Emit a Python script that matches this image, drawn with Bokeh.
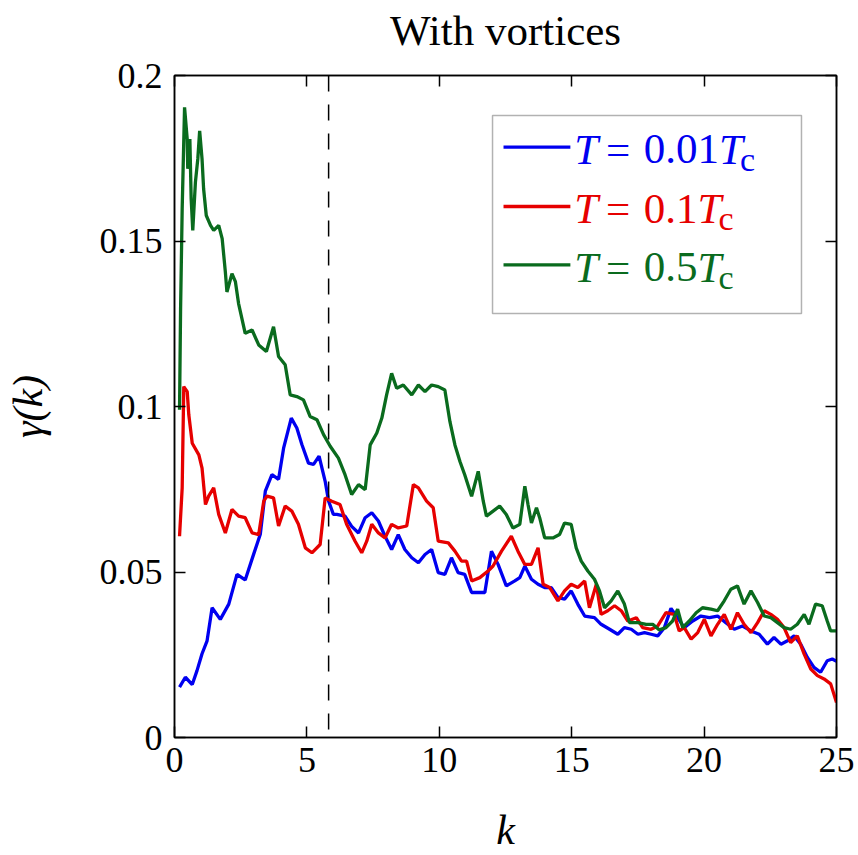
from bokeh.plotting import figure
from bokeh.models import Range1d, FixedTicker, NumeralTickFormatter, LinearAxis, Span, BoxAnnotation, Label
from bokeh.embed import file_html
from bokeh.resources import INLINE

# ---------------- data ----------------
blue_k = [0.19,0.41,0.67,0.85,1.04,1.23,1.42,1.73,2.05,2.36,2.67,2.99,3.24,3.43,3.68,3.93,4.12,4.41,4.62,4.81,
          5.06,5.25,5.46,5.69,5.82,6.0,6.13,6.44,6.69,6.95,7.2,7.45,7.7,7.95,8.2,8.45,8.7,8.96,9.21,9.46,
          9.71,9.96,10.21,10.46,10.71,10.96,11.22,11.72,11.97,12.22,12.53,12.85,13.04,13.23,13.48,13.73,13.98,14.23,14.48,14.73,
          14.98,15.23,15.49,15.86,16.11,16.43,16.74,16.99,17.25,17.5,17.75,18.0,18.25,18.5,18.75,19.0,19.25,19.57,19.88,20.2,
          20.51,20.82,21.14,21.45,21.77,22.08,22.39,22.64,22.9,23.15,23.4,23.65,23.9,24.15,24.4,24.65,24.84,25.0]
blue_g = [0.0152,0.0182,0.016,0.0202,0.0253,0.0292,0.0392,0.0357,0.0403,0.0493,0.0476,0.0554,0.0614,0.0744,0.0794,0.078,0.0874,0.0965,0.0935,0.0885,
          0.0829,0.0825,0.085,0.0774,0.0714,0.0674,0.0674,0.0669,0.0638,0.0618,0.0664,0.0679,0.0654,0.0608,0.0568,0.0613,0.0568,0.0543,0.0528,0.0553,
          0.0568,0.0498,0.0493,0.0543,0.0498,0.0493,0.0438,0.0438,0.0563,0.0523,0.0458,0.0473,0.0483,0.0518,0.0478,0.0463,0.0453,0.0453,0.0423,0.0418,
          0.0443,0.0403,0.0367,0.0362,0.0342,0.0327,0.0312,0.0332,0.0327,0.0312,0.0317,0.0312,0.0307,0.0332,0.0390,0.0362,0.0332,0.0352,0.0367,0.0362,
          0.0367,0.0347,0.0327,0.0337,0.0322,0.0312,0.0282,0.0302,0.0282,0.0292,0.0307,0.0282,0.0242,0.0212,0.0197,0.0232,0.0237,0.023]

red_k = [0.19,0.29,0.35,0.48,0.54,0.67,0.92,1.04,1.17,1.29,1.48,1.67,1.92,2.17,2.42,2.67,2.93,3.18,3.37,3.49,
         3.74,3.93,4.18,4.43,4.68,4.94,5.19,5.5,5.69,5.94,6.25,6.5,6.82,7.07,7.26,7.45,7.7,7.95,8.2,8.45,
         8.77,9.02,9.21,9.52,9.77,9.96,10.34,10.59,10.84,11.03,11.22,11.53,11.84,12.03,12.35,12.72,12.97,13.23,13.48,13.73,
         13.92,14.17,14.48,14.73,14.98,15.23,15.49,15.67,15.93,16.11,16.36,16.62,16.87,17.12,17.44,17.68,18.0,18.25,18.56,18.87,
         19.06,19.25,19.51,19.76,20.01,20.26,20.51,20.76,21.01,21.26,21.51,21.77,22.02,22.27,22.52,22.77,23.02,23.27,23.52,23.78,
         24.03,24.28,24.53,24.78,25.0]
red_g = [0.0608,0.0754,0.106,0.1045,0.0975,0.0889,0.0854,0.0814,0.0704,0.0729,0.0754,0.0674,0.0618,0.0689,0.0669,0.0664,0.0618,0.0613,0.0714,0.0729,
         0.0724,0.0639,0.0699,0.0684,0.0644,0.0573,0.0558,0.0583,0.0724,0.0714,0.0704,0.0644,0.0593,0.0558,0.0593,0.0644,0.0618,0.0603,0.0644,0.0633,
         0.0639,0.0764,0.0754,0.0714,0.0694,0.0593,0.0588,0.0563,0.0533,0.0533,0.0473,0.0483,0.0503,0.0518,0.0563,0.0608,0.0563,0.0523,0.0523,0.0573,
         0.0463,0.0453,0.0413,0.0443,0.0463,0.0453,0.0473,0.0392,0.0463,0.0372,0.0383,0.0398,0.0383,0.0352,0.0362,0.0332,0.0327,0.0337,0.0377,0.0372,
         0.0322,0.0332,0.0297,0.0317,0.0357,0.0307,0.0342,0.0372,0.0327,0.0377,0.0342,0.0317,0.0347,0.0383,0.0372,0.0357,0.0332,0.0287,0.0307,0.0252,
         0.0207,0.0187,0.0177,0.0162,0.0106]

green_k = [0.19,0.23,0.29,0.38,0.48,0.5,0.58,0.63,0.69,0.79,0.88,0.95,1.04,1.1,1.2,1.36,1.48,1.67,1.8,1.92,
           1.98,2.17,2.3,2.42,2.67,2.93,3.18,3.47,3.74,3.93,4.18,4.37,4.62,4.87,5.12,5.38,5.63,5.88,6.19,6.44,
           6.69,6.95,7.2,7.39,7.64,7.83,8.01,8.2,8.39,8.64,8.96,9.21,9.46,9.71,9.96,10.21,10.4,10.59,10.78,10.96,
           11.22,11.47,11.66,11.78,12.03,12.28,12.53,12.78,13.04,13.23,13.35,13.48,13.67,13.79,13.98,14.29,14.54,14.73,14.98,15.17,
           15.36,15.61,15.86,16.05,16.24,16.49,16.74,16.99,17.18,17.5,17.81,18.06,18.31,18.56,18.81,19.0,19.19,19.44,19.7,19.94,
           20.26,20.51,20.76,21.01,21.26,21.51,21.77,22.02,22.27,22.52,22.77,23.02,23.27,23.52,23.78,23.96,24.21,24.46,24.65,24.78,
           25.0]
green_g = [0.099,0.1296,0.1597,0.1904,0.1808,0.1718,0.1808,0.1627,0.1532,0.1678,0.1748,0.1833,0.1748,0.1657,0.1577,0.1547,0.1532,0.1547,0.1507,0.1407,
           0.1346,0.1401,0.1377,0.1311,0.1221,0.1231,0.1186,0.1166,0.1241,0.1151,0.1126,0.1035,0.1030,0.102,0.097,0.096,0.0915,0.0880,0.0844,0.0794,
           0.0734,0.0764,0.0749,0.0884,0.0920,0.0965,0.1035,0.1100,0.1055,0.1065,0.1035,0.1065,0.1045,0.1065,0.1060,0.1050,0.0955,0.0884,0.0834,0.0794,
           0.0729,0.0804,0.0714,0.0669,0.0684,0.0699,0.0674,0.0633,0.0644,0.0759,0.0704,0.0648,0.0694,0.0664,0.0603,0.0603,0.0613,0.0648,0.0644,0.0573,
           0.0533,0.0503,0.0478,0.0443,0.0392,0.0413,0.0443,0.0403,0.0347,0.0347,0.0342,0.0342,0.0325,0.0332,0.0352,0.0388,0.0332,0.0352,0.0377,0.0392,
           0.0388,0.0383,0.0413,0.0448,0.0458,0.0403,0.0443,0.0408,0.0367,0.0362,0.0347,0.0332,0.0327,0.0342,0.0372,0.0342,0.0403,0.0398,0.0352,0.0322,
           0.0322]

series_names = ["0.01", "0.1", "0.5"]          # T / Tc
series_colors = ["#0000f0", "#e60000", "#0a6b1e"]
k_cut = 5.82                                     # dashed vertical marker
x_ticks = [0, 5, 10, 15, 20, 25]
y_ticks = [0, 0.05, 0.1, 0.15, 0.2]
X_MIN, X_MAX = 0, 25
Y_MIN, Y_MAX = 0, 0.2
title_text = "With vortices"

SERIF = "Liberation Serif"
TICK_FS = 36
LAB_FS = 42
LEG_FS = 43

p = figure(width=858, height=855, output_backend="svg", toolbar_location=None,
           x_range=Range1d(X_MIN, X_MAX), y_range=Range1d(Y_MIN, Y_MAX),
           min_border_left=174, min_border_right=22, min_border_top=75, min_border_bottom=118)
p.grid.visible = False
p.outline_line_color = "black"
p.outline_line_width = 1.5
p.background_fill_color = "white"
p.border_fill_color = "white"

def style_axis(ax, ticks, show_labels):
    ax.ticker = FixedTicker(ticks=ticks)
    ax.major_tick_in = 11
    ax.major_tick_out = 0
    ax.minor_tick_in = 0
    ax.minor_tick_out = 0
    ax.axis_line_color = "black"
    ax.axis_line_width = 1.5
    ax.major_tick_line_color = "black"
    ax.major_tick_line_width = 1.5
    ax.major_label_text_font = SERIF
    if show_labels:
        ax.major_label_text_font_size = f"{TICK_FS}px"
        ax.major_label_text_color = "black"
    else:
        ax.major_label_text_font_size = "1px"
        ax.major_label_text_color = None
        ax.major_label_standoff = 0

xa = p.xaxis[0]
ya = p.yaxis[0]
style_axis(xa, x_ticks, True)
style_axis(ya, y_ticks, True)
ya.formatter = NumeralTickFormatter(format="0.[00]")
xa.major_label_standoff = 10
ya.major_label_standoff = 12

xa.axis_label = "k"
ya.axis_label = "γ(k)"
for ax in (xa, ya):
    ax.axis_label_text_font = SERIF
    ax.axis_label_text_font_style = "italic"
    ax.axis_label_text_font_size = f"{LAB_FS}px"
    ax.axis_label_text_color = "black"
xa.axis_label_standoff = 32
ya.axis_label_standoff = 46

top = LinearAxis()
right = LinearAxis()
style_axis(top, x_ticks, False)
style_axis(right, y_ticks, False)
# the chart title sits above the box, carried by the top axis
top.axis_label = title_text
top.axis_label_text_font = SERIF
top.axis_label_text_font_style = "normal"
top.axis_label_text_font_size = "43px"
top.axis_label_text_color = "black"
top.axis_label_standoff = 22
p.add_layout(top, "above")
p.add_layout(right, "right")

# curves
p.line(blue_k, blue_g, color=series_colors[0], line_width=3.3)
p.line(red_k, red_g, color=series_colors[1], line_width=3.3)
p.line(green_k, green_g, color=series_colors[2], line_width=3.3)

p.add_layout(Span(location=k_cut, dimension="height", line_color="black",
                  line_width=1.5, line_dash="16 13"))

# ---------------- legend (positions as fractions of the axes box) ----------------
def fx(f):
    return X_MIN + f * (X_MAX - X_MIN)

def fy(f):  # f measured from the top of the axes box
    return Y_MAX - f * (Y_MAX - Y_MIN)

p.add_layout(BoxAnnotation(left=fx(0.4804), right=fx(0.9471), top=fy(0.0604), bottom=fy(0.3595),
                           fill_color="white", fill_alpha=1.0, line_color="black", line_width=1.5,
                           level="underlay"))

row_line_f = [0.1083, 0.1979, 0.2860]
row_text_f = [0.1117, 0.2013, 0.2895]
p.segment(x0=[fx(0.497)] * 3, x1=[fx(0.598)] * 3,
          y0=[fy(f) for f in row_line_f], y1=[fy(f) for f in row_line_f],
          color=series_colors, line_width=3.3)

ADV = {"0": 0.5, "1": 0.5, "5": 0.5, ".": 0.25}
s = LEG_FS / 42.0
for name, col, fb in zip(series_names, series_colors, row_text_f):
    x0 = fx(0.6038)
    y0 = fy(fb)
    num_w = sum(ADV[c] for c in name) * LEG_FS
    pieces = [
        ("T", 0, "italic", LEG_FS, 0),
        ("=", 31 * s, "normal", LEG_FS, 0),
        (name, 68 * s, "normal", LEG_FS, 0),
        ("T", 68 * s + num_w, "italic", LEG_FS, 0),
        ("c", 68 * s + num_w + 21, "normal", 34, -10),
    ]
    for txt, dx, style, fs, dy in pieces:
        p.add_layout(Label(x=x0, y=y0, x_offset=dx, y_offset=dy, text=txt,
                           text_font=SERIF, text_font_style=style,
                           text_font_size=f"{fs}px", text_color=col,
                           text_baseline="alphabetic", text_align="left"))

open("out.html", "w").write(file_html(p, INLINE))
